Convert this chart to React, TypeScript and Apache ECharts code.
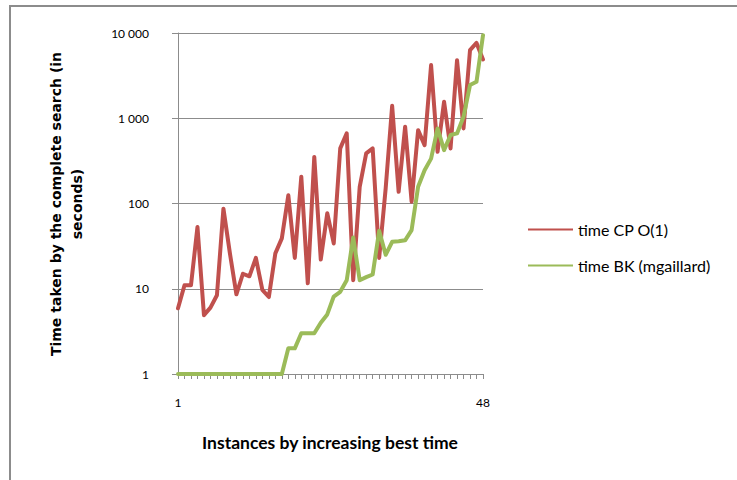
import React, { useEffect, useRef } from "react";
import * as echarts from "echarts";

const categories: string[] = Array.from({ length: 48 }, (_, i) => String(i + 1));

const timeCP: number[] = [
  5.9, 11, 11, 53, 4.9, 6, 8.4, 87, 26, 8.6, 15, 14, 23, 9.7, 8, 26, 39, 125, 23, 206,
  11.6, 352, 22, 77, 34, 443, 664, 12.6, 157, 387, 443, 23, 150, 1400, 137, 794, 105,
  725, 484, 4200, 404, 1560, 443, 4800, 760, 6300, 7650, 4900,
];

const timeBK: number[] = [
  1, 1, 1, 1, 1, 1, 1, 1, 1, 1, 1, 1, 1, 1, 1, 1, 1, 2, 2, 3, 3, 3, 4, 5, 8.1, 9.2,
  12.6, 40, 12.6, 13.7, 14.7, 48, 25, 35.5, 36, 37, 48.8, 157, 246, 336, 760, 423, 636,
  664, 1040, 2450, 2680, 9400,
];

const seriesNames: string[] = ["time CP O(1)", "time BK (mgaillard)"];
const yTicks: number[] = [1, 10, 100, 1000, 10000];
const yTickLabels: string[] = ["1", "10", "100", "1 000", "10 000"];
const xTitle = "Instances by increasing best time";
const yTitle = "Time taken by the complete search (in\nseconds)";

const labelFont = "Lato, 'Open Sans', 'Liberation Sans', sans-serif";

export default function App() {
  const ref = useRef<HTMLDivElement>(null);

  useEffect(() => {
    document.body.style.margin = "0";
    if (!ref.current) return;
    const chart = echarts.init(ref.current, null, { renderer: "svg" });
    const gray = "#8c8c8c";
    chart.setOption({
      animation: false,
      backgroundColor: "#ffffff",
      grid: { left: 178, top: 33, width: 305, height: 341, containLabel: false },
      legend: {
        orient: "vertical",
        left: 523,
        top: 215,
        icon: "rect",
        itemWidth: 45,
        itemHeight: 2,
        itemGap: 17,
        data: seriesNames,
        textStyle: { fontFamily: labelFont, fontSize: 16, color: "#000", lineHeight: 19 },
      },
      xAxis: {
        type: "category",
        data: categories,
        boundaryGap: false,
        axisLine: { show: true, lineStyle: { color: gray, width: 1 } },
        axisTick: { show: true, length: 5, interval: 0, lineStyle: { color: gray } },
        axisLabel: {
          interval: (idx: number) => idx === 0 || idx === categories.length - 1,
          margin: 22,
          fontFamily: labelFont,
          fontSize: 12,
          color: "#000",
        },
        splitLine: { show: false },
      },
      yAxis: {
        type: "log",
        logBase: 10,
        min: 1,
        max: 10000,
        axisLine: { show: true, lineStyle: { color: gray, width: 1 } },
        axisTick: { show: true, length: 6, lineStyle: { color: gray } },
        axisLabel: {
          margin: 29,
          fontFamily: labelFont,
          fontSize: 12,
          color: "#000",
          formatter: (v: number) => {
            const i = yTicks.indexOf(Math.round(v));
            return i >= 0 ? yTickLabels[i] : "";
          },
        },
        splitLine: { show: true, lineStyle: { color: gray, width: 1 } },
        minorTick: { show: false },
      },
      graphic: [
        {
          type: "rect",
          shape: { x: 10, y: 6, width: 800, height: 600 },
          style: { fill: "none", stroke: gray, lineWidth: 2 },
          silent: true,
        },
        {
          type: "text",
          x: 66,
          y: 204,
          rotation: Math.PI / 2,
          style: {
            text: yTitle,
            fontFamily: "'DejaVu Sans', Verdana, sans-serif",
            fontWeight: "bold",
            fontSize: 14,
            lineHeight: 21,
            align: "center",
            verticalAlign: "middle",
            fill: "#000",
          },
        },
        {
          type: "text",
          x: 330,
          y: 442,
          style: {
            text: xTitle,
            fontFamily: labelFont,
            fontWeight: "bold",
            fontSize: 17.5,
            align: "center",
            verticalAlign: "middle",
            fill: "#000",
          },
        },
      ],
      series: [
        {
          name: seriesNames[0],
          type: "line",
          data: timeCP,
          showSymbol: false,
          symbol: "none",
          color: "#C0504D",
          lineStyle: { color: "#C0504D", width: 4, join: "round", cap: "round" },
        },
        {
          name: seriesNames[1],
          type: "line",
          data: timeBK,
          showSymbol: false,
          symbol: "none",
          color: "#9BBB59",
          lineStyle: { color: "#9BBB59", width: 4, join: "round", cap: "round" },
        },
      ],
    });
    return () => chart.dispose();
  }, []);

  return <div ref={ref} style={{ width: 737, height: 480 }} />;
}
